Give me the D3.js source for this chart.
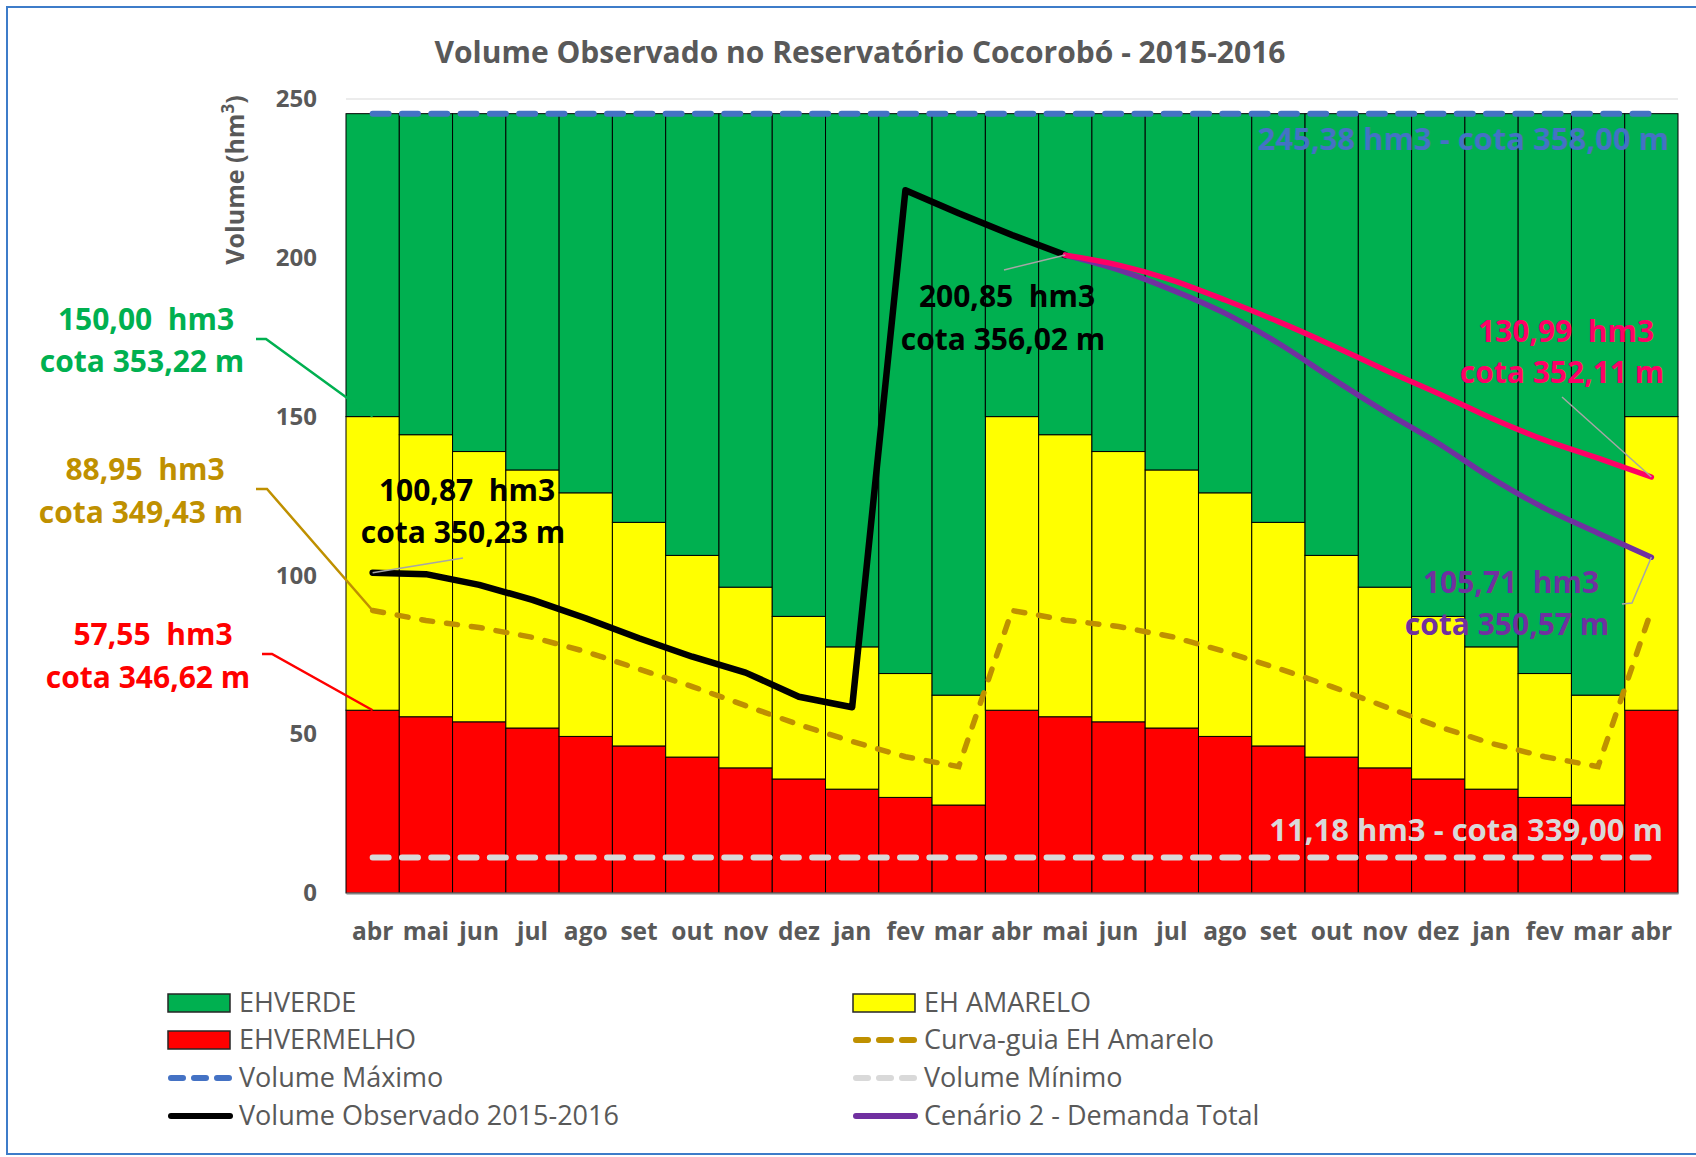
<!DOCTYPE html>
<html>
<head>
<meta charset="utf-8">
<script src="https://cdn.jsdelivr.net/npm/d3@7"></script>
<style>
  body { margin: 0; background: #fff; }
  svg { display: block; font-family: "Open Sans", sans-serif; }
</style>
</head>
<body>
<svg id="chart" width="1696" height="1157"></svg>
<script>
const WIDTH = 1696;
const HEIGHT = 1157;
const MARGIN = { left: 346, right: 18, top: 99, bottom: 264 };

// meses (abr/2015 a abr/2017)
const meses = ['abr','mai','jun','jul','ago','set','out','nov','dez','jan','fev','mar',
               'abr','mai','jun','jul','ago','set','out','nov','dez','jan','fev','mar','abr'];

// topo da faixa vermelha (hm3)
const ehVermelho = [57.55, 55.5, 53.9, 51.95, 49.3, 46.3, 42.8, 39.4, 35.9, 32.7, 30.1, 27.7,
                    57.55, 55.5, 53.9, 51.95, 49.3, 46.3, 42.8, 39.4, 35.9, 32.7, 30.1, 27.7, 57.55];
// topo da faixa amarela (hm3)
const ehAmarelo = [150.0, 144.3, 139.0, 133.2, 126.0, 116.7, 106.3, 96.3, 87.1, 77.5, 69.1, 62.3,
                   150.0, 144.3, 139.0, 133.2, 126.0, 116.7, 106.3, 96.3, 87.1, 77.5, 69.1, 62.3, 150.0];
const volumeMaximo = 245.38;
const volumeMinimo = 11.18;

const curvaGuia = [88.95, 85.8, 83.6, 80.5, 76.0, 70.5, 65.0, 59.0, 53.0, 47.7, 42.9, 39.8,
                   88.95, 85.9, 83.9, 80.7, 76.0, 70.7, 65.0, 58.7, 52.4, 47.1, 42.9, 39.8, 88.95];

// observado abr/2015 .. mai/2016
const volumeObservado = [100.87, 100.4, 97.0, 92.3, 86.5, 80.2, 74.4, 69.4, 61.8, 58.5, 221.3, 214.0, 207.2, 200.85];
// cenarios mai/2016 .. abr/2017
const cenario1 = [200.85, 197.7, 193.0, 186.7, 179.9, 172.5, 164.7, 157.3, 149.5, 142.6, 136.9, 130.99];
const cenario2 = [200.85, 196.2, 189.9, 182.5, 173.1, 162.1, 151.5, 141.6, 130.6, 121.1, 113.3, 105.71];

const yTicks = [0, 50, 100, 150, 200, 250];

const legendLabels = ['EHVERDE', 'EH AMARELO', 'EHVERMELHO', 'Curva-guia EH Amarelo',
                      'Volume Máximo', 'Volume Mínimo', 'Volume Observado 2015-2016', 'Cenário 2 - Demanda Total'];

const GRAY = '#595959';
const COLORS = {
  verde: '#00B050', amarelo: '#FFFF00', vermelho: '#FF0000',
  guia: '#BF9000', max: '#4472C4', min: '#D9D9D9',
  obs: '#000000', cen1: '#FF0066', cen2: '#7030A0'
};

const svg = d3.select('#chart');

// borda externa
svg.append('rect')
  .attr('x', 7).attr('y', 7).attr('width', WIDTH + 10).attr('height', HEIGHT - 10)
  .attr('fill', 'none').attr('stroke', '#3D7CC9').attr('stroke-width', 2);

const xScale = d3.scaleBand()
  .domain(d3.range(meses.length))
  .range([MARGIN.left, WIDTH - MARGIN.right])
  .padding(0);

const yScale = d3.scaleLinear()
  .domain([0, 250])
  .range([HEIGHT - MARGIN.bottom, MARGIN.top]);

const xc = i => xScale(i) + xScale.bandwidth() / 2;

// grade superior
svg.append('line')
  .attr('x1', MARGIN.left).attr('x2', WIDTH - MARGIN.right)
  .attr('y1', yScale(250)).attr('y2', yScale(250))
  .attr('stroke', '#D9D9D9').attr('stroke-width', 1);

// barras empilhadas
const table = meses.map((m, i) => ({
  i: i,
  vermelho: ehVermelho[i],
  amarelo: ehAmarelo[i] - ehVermelho[i],
  verde: volumeMaximo - ehAmarelo[i]
}));
const stack = d3.stack().keys(['vermelho', 'amarelo', 'verde'])(table);

svg.append('g').selectAll('g')
  .data(stack)
  .join('g')
  .attr('fill', d => COLORS[d.key])
  .selectAll('rect')
  .data(d => d)
  .join('rect')
  .attr('x', d => xScale(d.data.i))
  .attr('width', xScale.bandwidth())
  .attr('y', d => yScale(d[1]))
  .attr('height', d => yScale(d[0]) - yScale(d[1]))
  .attr('stroke', '#000')
  .attr('stroke-width', 1);

// eixos
svg.append('g')
  .attr('transform', `translate(0,${yScale(0)})`)
  .call(d3.axisBottom(xScale).tickSize(0).tickPadding(30).tickFormat(i => meses[i]))
  .call(g => g.select('.domain').attr('stroke', '#7F7F7F').attr('stroke-width', 2))
  .call(g => g.selectAll('text')
    .attr('fill', GRAY).attr('font-size', 24.5).attr('font-weight', 'bold')
    .attr('font-family', '"Open Sans", sans-serif'));

svg.append('g')
  .attr('transform', `translate(${MARGIN.left - 29},0)`)
  .call(d3.axisLeft(yScale).tickValues(yTicks).tickSize(0).tickPadding(0))
  .call(g => g.select('.domain').remove())
  .call(g => g.selectAll('text')
    .attr('fill', GRAY).attr('font-size', 24).attr('font-weight', 'bold')
    .attr('font-family', '"Open Sans", sans-serif'));

// titulo do eixo y
const yt = svg.append('text')
  .attr('transform', 'translate(244,180) rotate(-90)')
  .attr('text-anchor', 'middle')
  .attr('fill', GRAY).attr('font-size', 25).attr('font-weight', 'bold');
yt.append('tspan').text('Volume (hm');
yt.append('tspan').attr('font-size', 17).attr('dy', -10).text('3');
yt.append('tspan').attr('dy', 10).text(')');

// titulo
svg.append('text')
  .attr('x', 860).attr('y', 63)
  .attr('text-anchor', 'middle')
  .attr('fill', GRAY).attr('font-size', 30).attr('font-weight', 'bold')
  .text('Volume Observado no Reservatório Cocorobó - 2015-2016');

// linhas
const line = d3.line().x(d => xc(d.i)).y(d => yScale(d.v));
const smooth = d3.line().x(d => xc(d.i)).y(d => yScale(d.v)).curve(d3.curveCatmullRom.alpha(0.5));

const constSeries = v => [{ i: 0, v: v }, { i: meses.length - 1, v: v }];

svg.append('path')
  .datum(constSeries(volumeMinimo))
  .attr('d', line).attr('fill', 'none')
  .attr('stroke', COLORS.min).attr('stroke-width', 6)
  .attr('stroke-linecap', 'round').attr('stroke-dasharray', '16 13.3');

svg.append('path')
  .datum(constSeries(volumeMaximo))
  .attr('d', line).attr('fill', 'none')
  .attr('stroke', COLORS.max).attr('stroke-width', 6)
  .attr('stroke-linecap', 'round').attr('stroke-dasharray', '16 13.3');

svg.append('path')
  .datum(curvaGuia.map((v, i) => ({ i: i, v: v })))
  .attr('d', line).attr('fill', 'none')
  .attr('stroke', COLORS.guia).attr('stroke-width', 5.5)
  .attr('stroke-linecap', 'round').attr('stroke-dasharray', '11 14');

svg.append('path')
  .datum(volumeObservado.map((v, i) => ({ i: i, v: v })))
  .attr('d', line).attr('fill', 'none')
  .attr('stroke', COLORS.obs).attr('stroke-width', 6.5)
  .attr('stroke-linejoin', 'round').attr('stroke-linecap', 'round');

svg.append('path')
  .datum(cenario2.map((v, i) => ({ i: i + 13, v: v })))
  .attr('d', smooth).attr('fill', 'none')
  .attr('stroke', COLORS.cen2).attr('stroke-width', 5.5)
  .attr('stroke-linecap', 'round');

svg.append('path')
  .datum(cenario1.map((v, i) => ({ i: i + 13, v: v })))
  .attr('d', smooth).attr('fill', 'none')
  .attr('stroke', COLORS.cen1).attr('stroke-width', 5.5)
  .attr('stroke-linecap', 'round');

// linhas de chamada
function leader(points, color, width) {
  svg.append('path')
    .attr('d', d3.line()(points))
    .attr('fill', 'none').attr('stroke', color).attr('stroke-width', width);
}
leader([[256, 339], [266, 339], [xc(0), yScale(ehAmarelo[0])]], COLORS.verde, 2.5);
leader([[256, 489], [267, 489], [xc(0), yScale(curvaGuia[0])]], COLORS.guia, 2.5);
leader([[262, 654], [272, 654], [xc(0), yScale(ehVermelho[0])]], COLORS.vermelho, 2.5);
leader([[xc(0), yScale(volumeObservado[0])], [463, 558]], '#A6A6A6', 1.5);
leader([[xc(13), yScale(200.85)], [1004, 270]], '#A6A6A6', 1.5);
leader([[xc(24), yScale(cenario1[11])], [1562, 397]], '#A6A6A6', 1.5);
leader([[xc(24), yScale(cenario2[11])], [1632, 603], [1622, 604]], '#A6A6A6', 1.5);

// rotulos
function label(lines, cx, baselines, color) {
  lines.forEach((t, k) => {
    svg.append('text')
      .attr('x', cx[k]).attr('y', baselines[k])
      .attr('text-anchor', 'middle')
      .style('white-space', 'pre')
      .attr('fill', color).attr('font-size', 30).attr('font-weight', 'bold')
      .text(t);
  });
}
label(['150,00  hm3', 'cota 353,22 m'], [146, 142], [330, 372], COLORS.verde);
label(['88,95  hm3', 'cota 349,43 m'], [145, 141], [480, 523], COLORS.guia);
label(['57,55  hm3', 'cota 346,62 m'], [153, 148], [645, 688], COLORS.vermelho);
label(['100,87  hm3', 'cota 350,23 m'], [467, 463], [501, 543], COLORS.obs);
label(['200,85  hm3', 'cota 356,02 m'], [1007, 1003], [307, 350], COLORS.obs);
label(['130,99  hm3', 'cota 352,11 m'], [1566, 1562], [342, 383], COLORS.cen1);
label(['105,71  hm3', 'cota 350,57 m'], [1511, 1507], [593, 635], COLORS.cen2);

svg.append('text')
  .attr('x', 1669).attr('y', 150).attr('text-anchor', 'end')
  .attr('fill', COLORS.max).attr('font-size', 31).attr('font-weight', 'bold')
  .text('245,38 hm3 - cota 358,00 m');
svg.append('text')
  .attr('x', 1663).attr('y', 841).attr('text-anchor', 'end')
  .attr('fill', COLORS.min).attr('font-size', 31).attr('font-weight', 'bold')
  .text('11,18 hm3 - cota 339,00 m');

// legenda
const legendStyle = [
  { type: 'rect', color: COLORS.verde },
  { type: 'rect', color: COLORS.amarelo },
  { type: 'rect', color: COLORS.vermelho },
  { type: 'dash', color: COLORS.guia },
  { type: 'dash', color: COLORS.max },
  { type: 'dash', color: COLORS.min },
  { type: 'line', color: COLORS.obs },
  { type: 'line', color: COLORS.cen2 }
];
const colX = [168, 853];
const rowY = [1003, 1040, 1078, 1116];

legendLabels.forEach((name, k) => {
  const sx = colX[k % 2];
  const sy = rowY[Math.floor(k / 2)];
  const st = legendStyle[k];
  const g = svg.append('g');
  if (st.type === 'rect') {
    g.append('rect').attr('x', sx).attr('y', sy - 9).attr('width', 62).attr('height', 18)
      .attr('fill', st.color).attr('stroke', '#262626').attr('stroke-width', 1.5);
  } else {
    g.append('line').attr('x1', sx + 3).attr('x2', sx + 62).attr('y1', sy).attr('y2', sy)
      .attr('stroke', st.color).attr('stroke-width', 6).attr('stroke-linecap', 'round')
      .attr('stroke-dasharray', st.type === 'dash' ? '12 11' : null);
  }
  g.append('text')
    .attr('x', sx + 71).attr('y', sy).attr('dy', '0.35em')
    .attr('fill', GRAY).attr('font-size', 27)
    .text(name);
});
</script>
</body>
</html>
